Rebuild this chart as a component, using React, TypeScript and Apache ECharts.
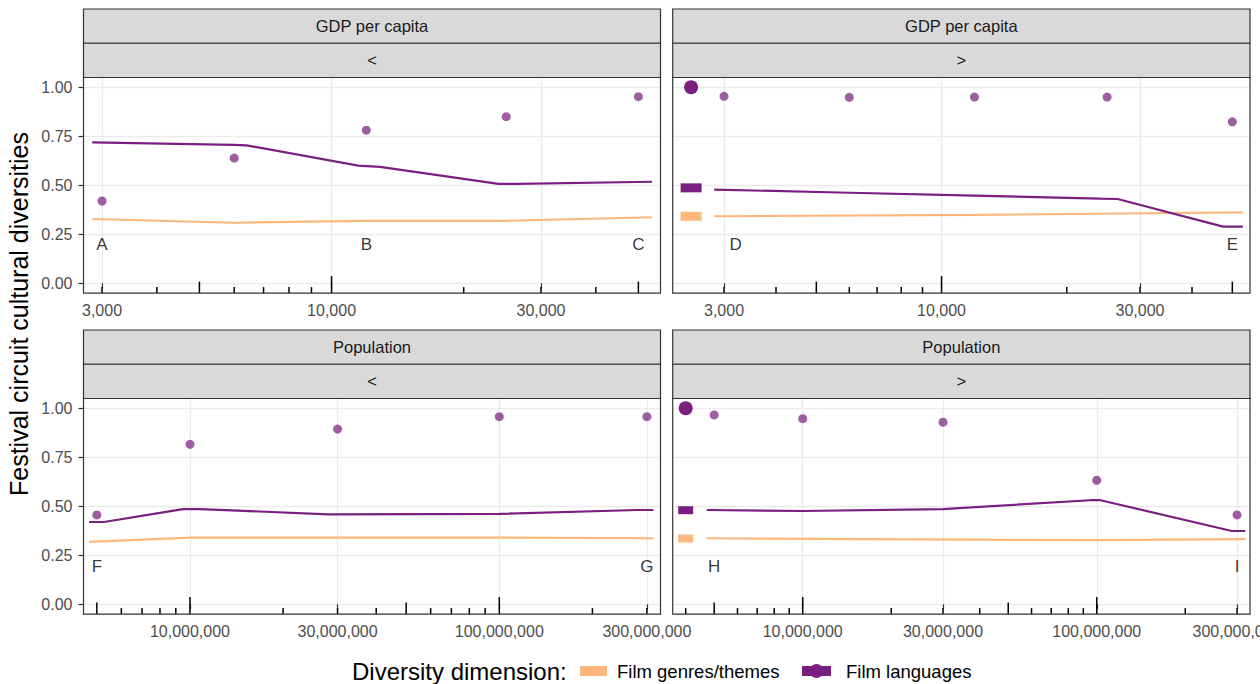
import React, { useEffect, useRef } from 'react';
import * as echarts from 'echarts';

const FONT = '"Liberation Sans", Arial, Helvetica, sans-serif';
const PURPLE = '#7A1F80';
const ORANGE = '#FDB77C';
const GRID_COLOR = '#EBEBEB';
const INK = '#333333';
const LABEL_GREY = '#4D4D4D';

// ---------------- data ----------------
const facetVariables = ['GDP per capita', 'GDP per capita', 'Population', 'Population'];
const facetDirections = ['<', '>', '<', '>'];

const yTickValues = [0, 0.25, 0.5, 0.75, 1];
const gdpTickValues = [3000, 10000, 30000];
const popTickValues = [10000000, 30000000, 100000000, 300000000];

const xMinByPanel = [2722, 2258, 4527000, 3613000];
const xMaxByPanel = [56150, 55140, 332000000, 332000000];

const gdpLogTicks = [3000, 4000, 5000, 6000, 7000, 8000, 9000, 10000, 20000, 30000, 40000, 50000];
const popLogTicksBelow = [5e6, 6e6, 7e6, 8e6, 9e6, 1e7, 2e7, 3e7, 4e7, 5e7, 6e7, 7e7, 8e7, 9e7, 1e8, 2e8, 3e8];
const popLogTicksAbove = [4e6, 5e6, 6e6, 7e6, 8e6, 9e6, 1e7, 2e7, 3e7, 4e7, 5e7, 6e7, 7e7, 8e7, 9e7, 1e8, 2e8, 3e8];

const gdpPointX = [3000, 6000, 12000, 25000, 50000];
const popPointX = [5000000, 10000000, 30000000, 100000000, 300000000];
const langShareGdpBelow = [0.42, 0.639, 0.781, 0.85, 0.952];
const langShareGdpAbove = [0.954, 0.949, 0.95, 0.95, 0.824];
const langSharePopBelow = [0.456, 0.816, 0.894, 0.957, 0.957];
const langSharePopAbove = [0.966, 0.947, 0.929, 0.633, 0.456];

const langLineGdpBelow = [[2850, 0.719], [6000, 0.706], [6400, 0.704], [11500, 0.6], [12900, 0.594], [24000, 0.507], [26500, 0.507], [53700, 0.518]];
const genreLineGdpBelow = [[2850, 0.328], [6000, 0.309], [12000, 0.318], [25000, 0.319], [53700, 0.337]];
const langLineGdpAbove = [[2840, 0.478], [6000, 0.462], [12000, 0.447], [24000, 0.432], [26500, 0.43], [47500, 0.289], [53000, 0.289]];
const genreLineGdpAbove = [[2840, 0.342], [12000, 0.349], [53000, 0.362]];
const langLinePopBelow = [[4720000, 0.42], [5270000, 0.42], [9500000, 0.486], [10800000, 0.486], [28000000, 0.459], [100000000, 0.461], [280000000, 0.481], [315000000, 0.481]];
const genreLinePopBelow = [[4720000, 0.319], [10000000, 0.34], [100000000, 0.34], [315000000, 0.337]];
const langLinePopAbove = [[4720000, 0.481], [10000000, 0.476], [30000000, 0.486], [95000000, 0.531], [103000000, 0.531], [288000000, 0.374], [320000000, 0.374]];
const genreLinePopAbove = [[4720000, 0.337], [100000000, 0.327], [320000000, 0.333]];

// overall reference marks (right-hand panels)
const overallGdpX = 2500;
const overallPopX = 4000000;
const overallShare = 1.0;
const overallLangGdp = 0.487;
const overallGenreGdp = 0.342;
const overallLangPop = 0.48;
const overallGenrePop = 0.336;

const lettersGdpBelow = [['A', 3000], ['B', 12000], ['C', 50000]];
const lettersGdpAbove = [['D', 3200], ['E', 50000]];
const lettersPopBelow = [['F', 5000000], ['G', 300000000]];
const lettersPopAbove = [['H', 5000000], ['I', 300000000]];
const letterYTop = 0.2;
const letterYBottom = 0.192;

const legendTitle = 'Diversity dimension:';
const genreName = 'Film genres/themes';
const langName = 'Film languages';
const yTitle = 'Festival circuit cultural diversities';

// ---------------- layout ----------------
const panelLeft = [83.5, 672.7, 83.5, 672.7];
const panelTop = [77.5, 77.5, 398.5, 398.5];
const panelWidth = [577, 577.3, 577, 577.3];
const panelHeight = 215.6;
const stripH = 34.25;

const panels = [
  { xTicks: gdpTickValues, logTicks: gdpLogTicks, px: gdpPointX, share: langShareGdpBelow, lang: langLineGdpBelow, genre: genreLineGdpBelow, letters: lettersGdpBelow, ly: letterYTop, overall: null as any },
  { xTicks: gdpTickValues, logTicks: gdpLogTicks, px: gdpPointX, share: langShareGdpAbove, lang: langLineGdpAbove, genre: genreLineGdpAbove, letters: lettersGdpAbove, ly: letterYTop, overall: { x: overallGdpX, lang: overallLangGdp, genre: overallGenreGdp, rect: [21, 9] } },
  { xTicks: popTickValues, logTicks: popLogTicksBelow, px: popPointX, share: langSharePopBelow, lang: langLinePopBelow, genre: genreLinePopBelow, letters: lettersPopBelow, ly: letterYBottom, overall: null as any },
  { xTicks: popTickValues, logTicks: popLogTicksAbove, px: popPointX, share: langSharePopAbove, lang: langLinePopAbove, genre: genreLinePopAbove, letters: lettersPopAbove, ly: letterYBottom, overall: { x: overallPopX, lang: overallLangPop, genre: overallGenrePop, rect: [15, 8] } },
];

function buildOption() {
  const grid: any[] = [];
  const xAxis: any[] = [];
  const yAxis: any[] = [];
  const series: any[] = [];
  const graphic: any[] = [];

  panels.forEach((p, i) => {
    grid.push({ left: panelLeft[i], top: panelTop[i], width: panelWidth[i], height: panelHeight, outerBoundsMode: 'none', containLabel: false });
    xAxis.push({
      type: 'log', logBase: 10, gridIndex: i, min: xMinByPanel[i], max: xMaxByPanel[i],
      axisLine: { show: false },
      axisTick: { show: true, length: 5, customValues: p.xTicks, lineStyle: { color: INK, width: 1.2 } },
      axisLabel: {
        customValues: p.xTicks, color: LABEL_GREY, fontSize: 16, fontFamily: FONT, margin: 9, hideOverlap: false,
        formatter: (v: number) => Math.round(v).toLocaleString('en-US'),
      },
      splitLine: { show: true, lineStyle: { color: GRID_COLOR, width: 1.3 } },
      minorTick: { show: false }, minorSplitLine: { show: false },
    });
    const left = i % 2 === 0;
    yAxis.push({
      type: 'value', gridIndex: i, min: -0.05, max: 1.05,
      axisLine: { show: false },
      axisTick: { show: left, length: 5, customValues: yTickValues, lineStyle: { color: INK, width: 1.2 } },
      axisLabel: {
        show: left, customValues: yTickValues, color: LABEL_GREY, fontSize: 16, fontFamily: FONT, margin: 11,
        formatter: (v: number) => v.toFixed(2),
      },
      splitLine: { show: true, lineStyle: { color: GRID_COLOR, width: 1.3 } },
    });

    // log ticks annotation
    series.push({
      type: 'custom', xAxisIndex: i, yAxisIndex: i, silent: true, z: 3,
      data: p.logTicks.map((v) => [v, -0.05]),
      renderItem: (_params: any, api: any) => {
        const v = api.value(0);
        const pt = api.coord([v, api.value(1)]);
        const e = Math.floor(Math.log10(v) + 1e-9);
        const m = Math.round(v / Math.pow(10, e));
        const len = m === 1 ? 17 : m === 5 ? 11.5 : 6;
        return {
          type: 'line',
          shape: { x1: pt[0], y1: pt[1], x2: pt[0], y2: pt[1] - len },
          style: { stroke: '#000', lineWidth: 1.5 },
        };
      },
    });

    series.push({
      type: 'line', name: genreName, xAxisIndex: i, yAxisIndex: i, data: p.genre,
      showSymbol: false, symbol: 'none', silent: true, z: 4,
      lineStyle: { color: ORANGE, width: 2.2 }, itemStyle: { color: ORANGE },
    });
    series.push({
      type: 'line', name: langName, xAxisIndex: i, yAxisIndex: i, data: p.lang,
      showSymbol: false, symbol: 'none', silent: true, z: 4,
      lineStyle: { color: PURPLE, width: 2.2 }, itemStyle: { color: PURPLE },
    });
    series.push({
      type: 'scatter', name: langName, xAxisIndex: i, yAxisIndex: i, silent: true, z: 5,
      data: p.px.map((x, k) => [x, p.share[k]]),
      symbolSize: 9, itemStyle: { color: PURPLE, opacity: 0.72 },
    });
    if (p.overall) {
      series.push({
        type: 'scatter', name: langName, xAxisIndex: i, yAxisIndex: i, silent: true, z: 5,
        data: [[p.overall.x, overallShare]], symbolSize: 14, itemStyle: { color: PURPLE, opacity: 1 },
      });
      series.push({
        type: 'scatter', name: langName, xAxisIndex: i, yAxisIndex: i, silent: true, z: 5,
        data: [[p.overall.x, p.overall.lang]], symbol: 'rect', symbolSize: p.overall.rect, itemStyle: { color: PURPLE, opacity: 1 },
      });
      series.push({
        type: 'scatter', name: genreName, xAxisIndex: i, yAxisIndex: i, silent: true, z: 5,
        data: [[p.overall.x, p.overall.genre]], symbol: 'rect', symbolSize: p.overall.rect, itemStyle: { color: ORANGE, opacity: 1 },
      });
    }
    series.push({
      type: 'scatter', xAxisIndex: i, yAxisIndex: i, silent: true, z: 6,
      data: p.letters.map((l) => ({ name: l[0], value: [l[1], p.ly] })),
      symbolSize: 1, itemStyle: { color: 'rgba(0,0,0,0)' },
      label: { show: true, position: 'inside', formatter: '{b}', color: '#000', fontSize: 17, fontFamily: FONT },
    });

    // strips
    const sx = panelLeft[i];
    const sw = panelWidth[i];
    const st = panelTop[i] - 2 * stripH;
    graphic.push({ type: 'rect', shape: { x: sx, y: st, width: sw, height: stripH }, style: { fill: '#D9D9D9', stroke: INK, lineWidth: 1.2 }, z: 50 });
    graphic.push({ type: 'rect', shape: { x: sx, y: st + stripH, width: sw, height: stripH }, style: { fill: '#D9D9D9', stroke: INK, lineWidth: 1.2 }, z: 50 });
    graphic.push({ type: 'text', x: sx + sw / 2, y: st + stripH / 2, z: 51, style: { text: facetVariables[i], fill: '#1A1A1A', font: `16.5px ${FONT}`, align: 'center', verticalAlign: 'middle' } });
    graphic.push({ type: 'text', x: sx + sw / 2, y: st + stripH * 1.5, z: 51, style: { text: facetDirections[i], fill: '#1A1A1A', font: `16.5px ${FONT}`, align: 'center', verticalAlign: 'middle' } });
    // panel border
    graphic.push({ type: 'rect', shape: { x: sx, y: panelTop[i], width: sw, height: panelHeight }, style: { fill: 'none', stroke: INK, lineWidth: 1.2 }, z: 50, silent: true });
  });

  // y title
  graphic.push({ type: 'text', x: 19, y: 314, rotation: Math.PI / 2, z: 51, style: { text: yTitle, fill: '#000', font: `25px ${FONT}`, align: 'center', verticalAlign: 'middle' } });

  // legend
  const ly = 671;
  graphic.push({ type: 'text', x: 352, y: ly, z: 51, style: { text: legendTitle, fill: '#000', font: `24px ${FONT}`, align: 'left', verticalAlign: 'middle' } });
  graphic.push({ type: 'rect', shape: { x: 580, y: ly - 5, width: 27, height: 10 }, style: { fill: ORANGE }, z: 51 });
  graphic.push({ type: 'text', x: 617, y: ly, z: 51, style: { text: genreName, fill: '#000', font: `18.5px ${FONT}`, align: 'left', verticalAlign: 'middle' } });
  graphic.push({ type: 'rect', shape: { x: 802, y: ly - 5, width: 29, height: 10 }, style: { fill: PURPLE }, z: 51 });
  graphic.push({ type: 'circle', shape: { cx: 816.5, cy: ly, r: 7 }, style: { fill: PURPLE }, z: 52 });
  graphic.push({ type: 'text', x: 846, y: ly, z: 51, style: { text: langName, fill: '#000', font: `18.5px ${FONT}`, align: 'left', verticalAlign: 'middle' } });

  return {
    animation: false,
    backgroundColor: '#FFFFFF',
    textStyle: { fontFamily: FONT },
    grid, xAxis, yAxis, series, graphic,
  };
}

export default function App() {
  const ref = useRef<HTMLDivElement>(null);
  useEffect(() => {
    document.body.style.margin = '0';
    if (!ref.current) return;
    const chart = echarts.init(ref.current, undefined, { renderer: 'svg' });
    chart.setOption(buildOption() as any);
    return () => chart.dispose();
  }, []);
  return <div ref={ref} style={{ width: 1260, height: 684, position: 'absolute', left: 0, top: 0 }} />;
}
